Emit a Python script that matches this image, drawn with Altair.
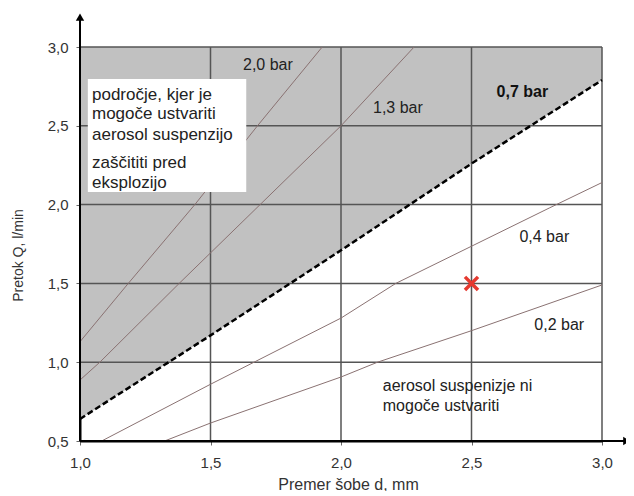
import altair as alt
import pandas as pd

# ---- data ----
limit_d = [1.0, 1.5, 2.0, 2.5, 3.0]          # 0,7 bar (dashed boundary)
limit_q = [0.64, 1.17, 1.71, 2.26, 2.79]

bar20_d = [1.0, 1.185, 1.44, 1.68, 1.928]
bar20_q = [1.13, 1.5, 2.0, 2.5, 3.0]

bar13_d = [1.0, 1.076, 1.38, 1.69, 2.0, 2.28]
bar13_q = [0.887, 1.0, 1.5, 2.0, 2.5, 3.0]

bar04_d = [1.083, 1.5, 2.0, 2.21, 2.8, 3.0]
bar04_q = [0.5, 0.86, 1.28, 1.5, 1.98, 2.14]

bar02_d = [1.324, 1.5, 2.0, 2.14, 2.5, 3.0]
bar02_q = [0.5, 0.614, 0.906, 1.0, 1.2, 1.49]

grid_q = [1.0, 1.5, 2.0, 2.5, 3.0]
grid_d = [1.5, 2.0, 2.5, 3.0]
x_ticks = [1.0, 1.5, 2.0, 2.5, 3.0]
y_ticks = [0.5, 1.0, 1.5, 2.0, 2.5, 3.0]

bar_labels = ["2,0 bar", "1,3 bar", "0,7 bar", "0,4 bar", "0,2 bar"]
bar_label_d = [1.72, 2.218, 2.695, 2.779, 2.836]
bar_label_q = [2.886, 2.613, 2.714, 1.794, 1.236]
bar_label_bold = [False, False, True, False, False]

box_lines = ["področje, kjer je", "mogoče ustvariti", "aerosol suspenzijo",
             "zaščititi pred", "eksplozijo"]
box_line_q = [2.695, 2.575, 2.44, 2.265, 2.14]
box_text_d = 1.046
box_d = [1.03, 1.637]
box_q = [2.08, 2.797]

low_lines = ["aerosol suspenizje ni", "mogoče ustvariti"]
low_line_q = [0.849, 0.722]
low_text_d = 2.16

mark_d = [2.5]
mark_q = [1.5]

# ---- scales ----
xs = alt.Scale(domain=[1.0, 3.0], nice=False, zero=False)
ys = alt.Scale(domain=[0.5, 3.0], nice=False, zero=False)
FONT = "Liberation Sans"
lbl = "replace(format(datum.value, '.1f'), '.', ',')"

limit_df = pd.DataFrame({"d": limit_d, "q": limit_q, "top": [3.0] * len(limit_d)})

area = alt.Chart(limit_df).mark_area(color="#c1c1c1", opacity=1).encode(
    x=alt.X("d:Q", scale=xs,
            axis=alt.Axis(values=x_ticks, labelExpr=lbl, grid=False, domain=True,
                          domainColor="black", domainWidth=2, tickColor="#666",
                          tickSize=4, labelPadding=10, labelFlush=False,
                          labelFont=FONT, labelFontSize=15,
                          labelColor="#333", title="Premer šobe d, mm",
                          titleFont=FONT, titleFontSize=16, titleFontWeight="normal",
                          titleColor="#333", titleX=268, titleY=43,
                          titleBaseline="middle")),
    y=alt.Y("q:Q", scale=ys,
            axis=alt.Axis(values=y_ticks, labelExpr=lbl, grid=False, domain=True,
                          domainColor="black", domainWidth=2, tickColor="#666",
                          tickSize=4, labelPadding=8, labelFlush=False,
                          labelFont=FONT, labelFontSize=15,
                          labelColor="#333", title="Pretok Q, l/min",
                          titleFont=FONT, titleFontSize=14, titleFontWeight="normal",
                          titleColor="#333", titleX=-62, titleY=208, titleAngle=-90,
                          titleAlign="center", titleBaseline="middle")),
    y2="top:Q",
)

hgrid = alt.Chart(pd.DataFrame({"q": grid_q, "a": [1.0] * len(grid_q), "b": [3.0] * len(grid_q)})).mark_rule(
    color="#555555", strokeWidth=1.5).encode(
    y=alt.Y("q:Q", scale=ys), x=alt.X("a:Q", scale=xs), x2="b:Q")
vgrid = alt.Chart(pd.DataFrame({"d": grid_d, "a": [0.5] * len(grid_d), "b": [3.0] * len(grid_d)})).mark_rule(
    color="#555555", strokeWidth=1.5).encode(
    x=alt.X("d:Q", scale=xs), y=alt.Y("a:Q", scale=ys), y2="b:Q")

curves = []
for name, dd, qq in [("2,0", bar20_d, bar20_q), ("1,3", bar13_d, bar13_q),
                     ("0,4", bar04_d, bar04_q), ("0,2", bar02_d, bar02_q)]:
    curves.append(pd.DataFrame({"d": dd, "q": qq, "s": name}))
curve_df = pd.concat(curves)
curve = alt.Chart(curve_df).mark_line(color="#8a7272", strokeWidth=1).encode(
    x=alt.X("d:Q", scale=xs), y=alt.Y("q:Q", scale=ys), detail="s:N")

dashed = alt.Chart(limit_df).mark_line(color="black", strokeWidth=2.5,
                                       strokeDash=[6, 3]).encode(
    x=alt.X("d:Q", scale=xs), y=alt.Y("q:Q", scale=ys))

box = alt.Chart(pd.DataFrame({"d1": [box_d[0]], "d2": [box_d[1]],
                              "q1": [box_q[0]], "q2": [box_q[1]]})).mark_rect(
    color="white").encode(
    x=alt.X("d1:Q", scale=xs), x2="d2:Q", y=alt.Y("q1:Q", scale=ys), y2="q2:Q")

box_text = alt.Chart(pd.DataFrame({"t": box_lines, "q": box_line_q,
                                   "d": [box_text_d] * len(box_lines)})).mark_text(
    align="left", baseline="middle", font=FONT, fontSize=17, color="#222").encode(
    x=alt.X("d:Q", scale=xs), y=alt.Y("q:Q", scale=ys), text="t:N")

low_text = alt.Chart(pd.DataFrame({"t": low_lines, "q": low_line_q,
                                   "d": [low_text_d] * len(low_lines)})).mark_text(
    align="left", baseline="middle", font=FONT, fontSize=16, color="#222").encode(
    x=alt.X("d:Q", scale=xs), y=alt.Y("q:Q", scale=ys), text="t:N")

bl_df = pd.DataFrame({"t": bar_labels, "d": bar_label_d, "q": bar_label_q,
                      "b": bar_label_bold})
bar_text = alt.Chart(bl_df[~bl_df["b"]]).mark_text(
    align="center", baseline="middle", font=FONT, fontSize=16, color="#222").encode(
    x=alt.X("d:Q", scale=xs), y=alt.Y("q:Q", scale=ys), text="t:N")
bar_text_b = alt.Chart(bl_df[bl_df["b"]]).mark_text(
    align="center", baseline="middle", font=FONT, fontSize=16, fontWeight="bold",
    color="#111").encode(
    x=alt.X("d:Q", scale=xs), y=alt.Y("q:Q", scale=ys), text="t:N")

cross = alt.Chart(pd.DataFrame({"d": mark_d, "q": mark_q})).mark_point(
    shape="M-1,-1L1,1M1,-1L-1,1", size=170, color="#e5392f", strokeWidth=3.5,
    filled=False, opacity=1).encode(
    x=alt.X("d:Q", scale=xs), y=alt.Y("q:Q", scale=ys))

# axis arrows (extending past the domain)
yarrow = alt.Chart(pd.DataFrame({"d": [1.0], "a": [0.5], "b": [3.19]})).mark_rule(
    color="black", strokeWidth=2).encode(
    x=alt.X("d:Q", scale=xs), y=alt.Y("a:Q", scale=ys), y2="b:Q")
xarrow = alt.Chart(pd.DataFrame({"q": [0.5], "a": [1.0], "b": [3.09]})).mark_rule(
    color="black", strokeWidth=2).encode(
    y=alt.Y("q:Q", scale=ys), x=alt.X("a:Q", scale=xs), x2="b:Q")
yhead = alt.Chart(pd.DataFrame({"d": [1.0], "q": [3.19]})).mark_point(
    shape="triangle-up", size=70, color="black", filled=True, opacity=1).encode(
    x=alt.X("d:Q", scale=xs), y=alt.Y("q:Q", scale=ys))
xhead = alt.Chart(pd.DataFrame({"d": [3.095], "q": [0.5]})).mark_point(
    shape="triangle-right", size=70, color="black", filled=True, opacity=1).encode(
    x=alt.X("d:Q", scale=xs), y=alt.Y("q:Q", scale=ys))

chart = alt.layer(area, hgrid, vgrid, curve, dashed, box, box_text, low_text,
                  bar_text, bar_text_b, cross, yarrow, xarrow, yhead, xhead).properties(
    width=522, height=394,
    autosize=alt.AutoSizeParams(type="none"),
    padding={"left": 72, "top": 39, "right": 24, "bottom": 50},
    background="white",
).configure_view(stroke=None)

chart.save("out.html", embed_options={"renderer": "svg", "actions": False})
